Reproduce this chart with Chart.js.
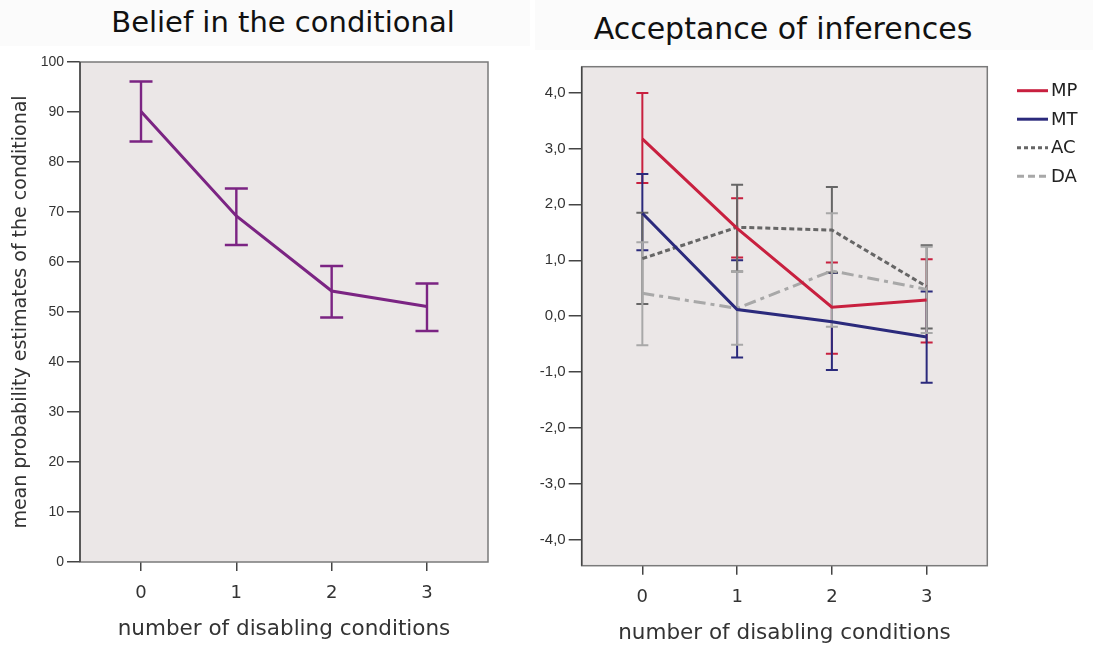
<!DOCTYPE html>
<html>
<head>
<meta charset="utf-8">
<title>Disabling conditions</title>
<script src="https://cdn.jsdelivr.net/npm/chart.js@4.4.1/dist/chart.umd.min.js"></script>
<style>
  body { margin: 0; background: #fff; width: 1093px; height: 646px; position: relative; overflow: hidden; }
  .band { position: absolute; top: 0; background: #fbfbfb; }
  .title { position: absolute; font-family: "DejaVu Sans", sans-serif; font-size: 29px; color: #111; white-space: nowrap; transform: translate(-50%, -50%); }
  canvas { position: absolute; top: 0; }
</style>
</head>
<body>
<div class="band" style="left:0;width:530px;height:46px"></div>
<div class="band" style="left:535px;width:558px;height:50px"></div>
<div class="title" style="left:283px;top:22px">Belief in the conditional</div>
<div class="title" style="left:783px;top:28px;font-size:30px">Acceptance of inferences</div>
<canvas id="belief" width="535" height="646" style="left:0"></canvas>
<canvas id="accept" width="558" height="646" style="left:535px"></canvas>
<script>
// number of disabling conditions
const conditions = [0, 1, 2, 3];

// belief in the conditional: mean and error bar ends
const beliefMean = [90.1, 69.2, 54.2, 51.1];
const beliefLow  = [84.1, 63.4, 48.9, 46.2];
const beliefHigh = [96.1, 74.7, 59.2, 55.7];
const beliefTicks = [0, 10, 20, 30, 40, 50, 60, 70, 80, 90, 100];

// acceptance of inferences
const mpMean = [3.17, 1.57, 0.16, 0.29];
const mpLow  = [2.38, 1.05, -0.67, -0.47];
const mpHigh = [3.99, 2.11, 0.96, 1.02];
const mtMean = [1.84, 0.12, -0.10, -0.37];
const mtLow  = [1.18, -0.74, -0.96, -1.19];
const mtHigh = [2.54, 1.00, 0.77, 0.44];
const acMean = [1.03, 1.59, 1.54, 0.53];
const acLow  = [0.22, 0.80, 0.78, -0.22];
const acHigh = [1.85, 2.35, 2.31, 1.27];
const daMean = [0.41, 0.14, 0.81, 0.48];
const daLow  = [-0.52, -0.51, -0.19, -0.30];
const daHigh = [1.32, 0.80, 1.84, 1.24];
const acceptTicks = [-4, -3, -2, -1, 0, 1, 2, 3, 4];

const points = (ys) => conditions.map((c, i) => ({ x: c, y: ys[i] }));
const gothic = "'DejaVu Sans', sans-serif";
const arial = "'Liberation Sans', Arial, sans-serif";

// grey plot panel + frame
const plotFrame = {
  id: 'plotFrame',
  beforeDraw(chart) {
    const { ctx, chartArea: a } = chart;
    ctx.save();
    ctx.fillStyle = '#ebe7e7';
    ctx.fillRect(a.left, a.top, a.right - a.left, a.bottom - a.top);
    ctx.restore();
  },
  afterDraw(chart) {
    const { ctx, chartArea: a } = chart;
    ctx.save();
    ctx.strokeStyle = '#7a7a7a';
    ctx.lineWidth = 1.5;
    ctx.strokeRect(a.left, a.top, a.right - a.left, a.bottom - a.top);
    ctx.strokeStyle = '#444';
    ctx.beginPath();
    ctx.moveTo(a.left, a.top);
    ctx.lineTo(a.left, a.bottom);
    ctx.stroke();
    ctx.restore();
  }
};

// vertical error bars with caps, read from errLow / errHigh on each dataset
const errorBars = {
  id: 'errorBars',
  beforeDatasetsDraw(chart) {
    const { ctx, scales: { x, y } } = chart;
    chart.data.datasets.forEach(ds => {
      if (!ds.errLow) return;
      ctx.save();
      ctx.strokeStyle = ds.errColor || ds.borderColor;
      ctx.lineWidth = ds.errWidth || 2;
      const half = (ds.capWidth || 12) / 2;
      ds.data.forEach((p, i) => {
        const px = x.getPixelForValue(p.x);
        const top = y.getPixelForValue(ds.errHigh[i]);
        const bot = y.getPixelForValue(ds.errLow[i]);
        ctx.beginPath();
        ctx.moveTo(px, top); ctx.lineTo(px, bot);
        ctx.moveTo(px - half, top); ctx.lineTo(px + half, top);
        ctx.moveTo(px - half, bot); ctx.lineTo(px + half, bot);
        ctx.stroke();
      });
      ctx.restore();
    });
  }
};

// legend drawn beside the panel: short line sample followed by the label
const sideLegend = {
  id: 'sideLegend',
  afterDraw(chart, args, opts) {
    if (!opts || !opts.show) return;
    const { ctx } = chart;
    chart.data.datasets.forEach((ds, i) => {
      const y = opts.top + i * opts.step;
      ctx.save();
      ctx.strokeStyle = ds.borderColor;
      ctx.lineWidth = 3;
      ctx.setLineDash(ds.legendDash || ds.borderDash || []);
      ctx.beginPath();
      ctx.moveTo(opts.x, y);
      ctx.lineTo(opts.x + opts.len, y);
      ctx.stroke();
      ctx.setLineDash([]);
      ctx.fillStyle = '#222';
      ctx.font = '18px ' + gothic;
      ctx.textBaseline = 'middle';
      ctx.fillText(ds.label, opts.x + opts.len + 3, y + 1);
      ctx.restore();
    });
  }
};

Chart.register(plotFrame, errorBars, sideLegend);

function xScale(axisHeight, titleGap) {
  return {
    type: 'linear',
    min: -0.64,
    max: 3.64,
    afterBuildTicks: s => { s.ticks = conditions.map(v => ({ value: v })); },
    afterFit: s => { s.height = axisHeight; },
    border: { display: false },
    grid: { drawOnChartArea: false, drawTicks: true, tickLength: 9, color: '#444', lineWidth: 1.5 },
    ticks: { padding: 12, color: '#333', font: { family: gothic, size: 18 } },
    title: {
      display: true,
      text: 'number of disabling conditions',
      color: '#333',
      font: { family: gothic, size: 21.5 },
      padding: { top: 0, bottom: titleGap }
    }
  };
}

function yGrid() {
  return { drawOnChartArea: false, drawTicks: true, tickLength: 13, color: '#444', lineWidth: 1.5 };
}

new Chart(document.getElementById('belief'), {
  type: 'line',
  data: {
    datasets: [{
      label: 'Belief',
      data: points(beliefMean),
      errLow: beliefLow,
      errHigh: beliefHigh,
      capWidth: 23,
      errWidth: 2.4,
      borderColor: '#7b2483',
      borderWidth: 3,
      pointRadius: 0,
      tension: 0
    }]
  },
  options: {
    responsive: false,
    animation: false,
    layout: { padding: { top: 62, right: 47, bottom: 0, left: 0 } },
    plugins: { legend: { display: false }, tooltip: { enabled: false } },
    scales: {
      x: xScale(84, 4),
      y: {
        min: 0,
        max: 100,
        afterBuildTicks: s => { s.ticks = beliefTicks.map(v => ({ value: v })); },
        afterFit: s => { s.width = 80; },
        border: { display: false },
        grid: yGrid(),
        ticks: { padding: 3, color: '#333', font: { family: arial, size: 14 } },
        title: {
          display: true,
          text: 'mean probability estimates of the conditional',
          color: '#333',
          font: { family: gothic, size: 19 },
          padding: { top: 10, bottom: 0 }
        }
      }
    }
  }
});

new Chart(document.getElementById('accept'), {
  type: 'line',
  data: {
    datasets: [
      {
        label: 'MP', data: points(mpMean), errLow: mpLow, errHigh: mpHigh,
        borderColor: '#c8203f', borderWidth: 3, pointRadius: 0, tension: 0
      },
      {
        label: 'MT', data: points(mtMean), errLow: mtLow, errHigh: mtHigh,
        borderColor: '#2b2a7c', borderWidth: 3, pointRadius: 0, tension: 0
      },
      {
        label: 'AC', data: points(acMean), errLow: acLow, errHigh: acHigh,
        borderColor: '#666666', borderWidth: 3, borderDash: [5, 3], legendDash: [4, 3],
        pointRadius: 0, tension: 0
      },
      {
        label: 'DA', data: points(daMean), errLow: daLow, errHigh: daHigh,
        borderColor: '#a8a8a8', borderWidth: 3, borderDash: [12, 5, 4, 5], legendDash: [7, 4],
        pointRadius: 0, tension: 0
      }
    ]
  },
  options: {
    responsive: false,
    animation: false,
    layout: { padding: { top: 66.7, right: 105.7, bottom: 0, left: 0 } },
    plugins: {
      legend: { display: false },
      tooltip: { enabled: false },
      sideLegend: { show: true, x: 482, top: 90.7, step: 28.5, len: 31 }
    },
    scales: {
      x: xScale(80.3, 0),
      y: {
        min: -4.46,
        max: 4.46,
        afterBuildTicks: s => { s.ticks = acceptTicks.map(v => ({ value: v })); },
        afterFit: s => { s.width = 46.7; },
        border: { display: false },
        grid: yGrid(),
        ticks: {
          padding: 3,
          color: '#333',
          font: { family: arial, size: 15 },
          callback: v => v.toFixed(1).replace('.', ',')
        }
      }
    }
  }
});
</script>
</body>
</html>
